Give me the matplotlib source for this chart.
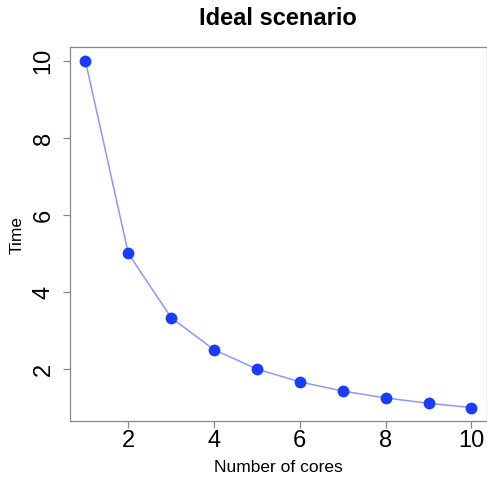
import matplotlib.pyplot as plt

plt.rcParams["font.family"] = ["Liberation Sans", "DejaVu Sans"]

cores = [1, 2, 3, 4, 5, 6, 7, 8, 9, 10]
time_vals = [10.0, 5.0, 3.333, 2.5, 2.0, 1.667, 1.429, 1.25, 1.111, 1.0]
x_ticks = [2, 4, 6, 8, 10]
y_ticks = [2, 4, 6, 8, 10]

fig = plt.figure(figsize=(4.87, 4.8), dpi=100)
ax = fig.add_axes([0.1437, 0.122, 0.856, 0.780])

ax.plot(cores, time_vals, color="#8c98ff", linewidth=1.1, zorder=2)
ax.plot(cores, time_vals, "o", color="#1a3cff", markersize=8.5, markeredgewidth=0, zorder=3)

# R style padding of 4%
ax.set_xlim(0.64, 10.36)
ax.set_ylim(0.64, 10.36)
ax.set_xticks(x_ticks)
ax.set_yticks(y_ticks)
ax.set_xticklabels([str(t) for t in x_ticks], fontsize=17)
ax.set_yticklabels([str(t) for t in y_ticks], fontsize=17, rotation=90, va="center")
ax.tick_params(length=5, color="#888888", width=0.9)
ax.tick_params(axis="x", pad=1.5)
ax.tick_params(axis="y", pad=6)
for s in ax.spines.values():
    s.set_color("#888888")
    s.set_linewidth(0.9)

fig.text(0.57, 0.962, "Ideal scenario", fontsize=17, fontweight="bold", ha="center", va="center")
fig.text(0.572, 0.025, "Number of cores", fontsize=12.5, ha="center", va="center")
fig.text(0.036, 0.51, "Time", fontsize=12.5, rotation=90, ha="center", va="center")

fig.savefig("out.png", dpi=100)
